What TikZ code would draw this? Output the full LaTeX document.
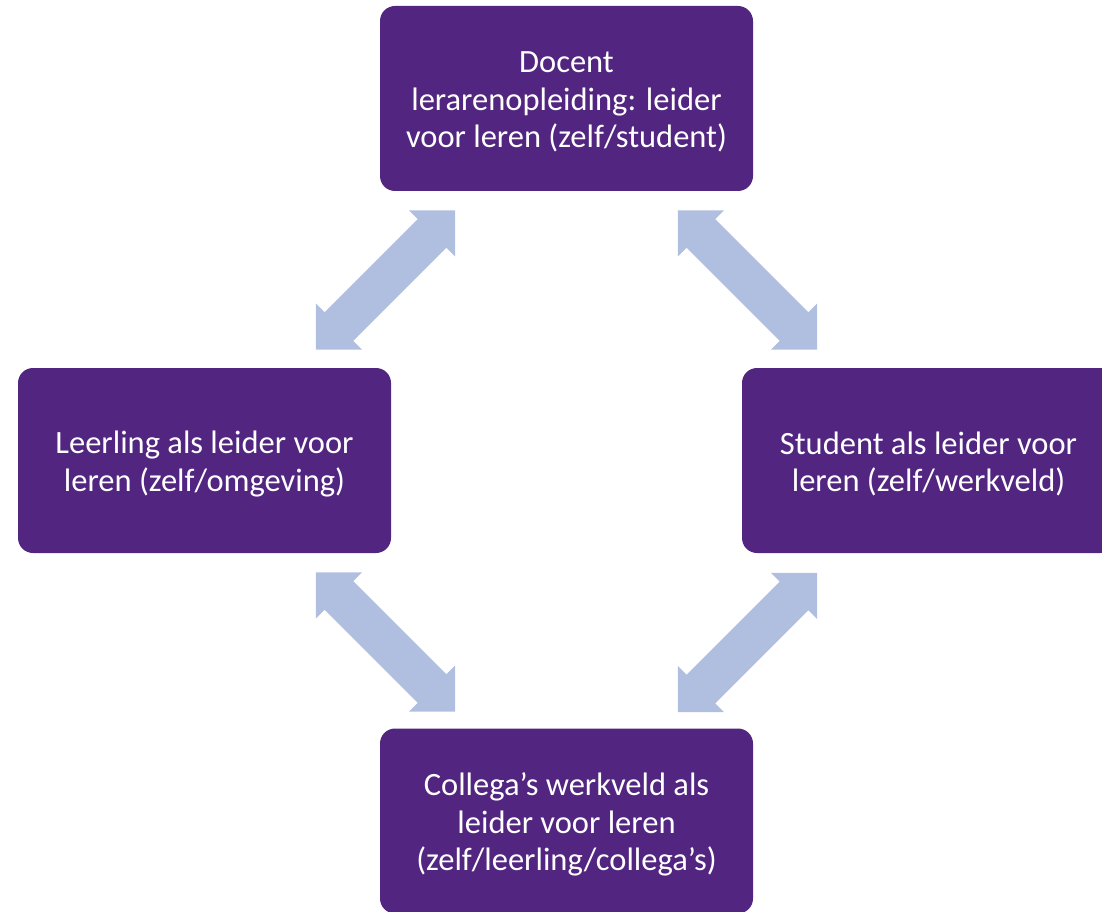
\documentclass[tikz,border=0pt]{standalone}
\usepackage{fontspec}
\setmainfont{Carlito}
\usetikzlibrary{shapes.arrows}
\definecolor{boxpurple}{RGB}{82,38,128}
\definecolor{arrowblue}{RGB}{176,190,224}
\tikzset{
  rolebox/.style={rectangle, rounded corners=15pt, fill=boxpurple, draw=none,
    minimum width=373pt, minimum height=185pt, inner sep=0pt},
  roletext/.style={text=white, align=center, inner sep=0pt, yshift=-3.5pt,
    font=\fontsize{32.5pt}{37.5pt}\selectfont},
  linkarrow/.style={double arrow, fill=arrowblue, draw=none,
    minimum height=197pt, minimum width=65pt, inner sep=0pt,
    text height=40pt, text depth=0pt, text width=0pt,
    double arrow tip angle=90, double arrow head extend=12.5pt}
}
\begin{document}
\begin{tikzpicture}[x=1pt, y=-1pt]
  \useasboundingbox (0,0) rectangle (1102,912);
  \clip (0,0) rectangle (1102,912);
  % role boxes, each with its caption set slightly below the centre
  \node[rolebox, label={[roletext]center:{Docent\\lerarenopleiding: leider\\voor leren (zelf/student)}}]
    (docent) at (566.5,98.5) {};
  \node[rolebox, label={[roletext]center:{Leerling als leider voor\\leren (zelf/omgeving)}}]
    (leerling) at (204.5,460.5) {};
  \node[rolebox, label={[roletext]center:{Student als leider voor\\leren (zelf/werkveld)}}]
    (student) at (928.5,460.5) {};
  \node[rolebox, label={[roletext]center:{Collega’s werkveld als\\leider voor leren\\(zelf/leerling/collega’s)}}]
    (collega) at (566.5,821) {};
  % two-way links between the roles
  \node[linkarrow, rotate=45]  (docleer) at (385.5,280) {};
  \node[linkarrow, rotate=-45] (docstud) at (747.5,280) {};
  \node[linkarrow, rotate=-45] (leercol) at (385.5,642) {};
  \node[linkarrow, rotate=45]  (studcol) at (747.5,642.5) {};
\end{tikzpicture}
\end{document}
